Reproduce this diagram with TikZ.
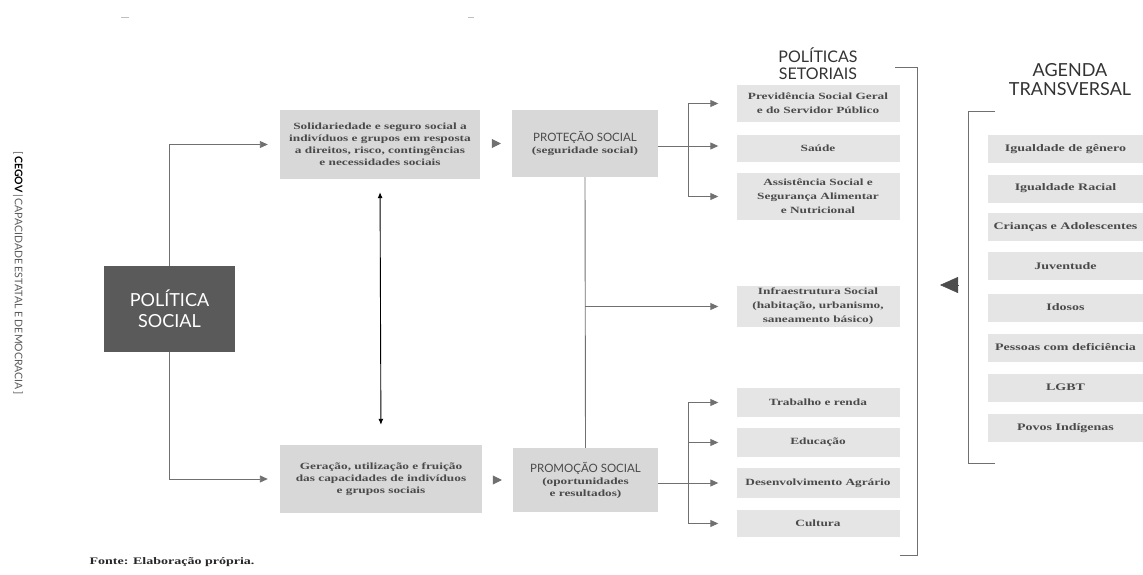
\documentclass[tikz,border=0pt]{standalone}
\usepackage{fontspec}
\setmainfont{Liberation Serif}
\newfontfamily\bodyf{Liberation Serif}[FakeStretch=1.4]
\newfontfamily\hdrf{Lato}
\usetikzlibrary{arrows.meta}
\definecolor{boxgray}{HTML}{D8D8D8}
\definecolor{lightbox}{HTML}{E5E5E5}
\definecolor{darkbox}{HTML}{5A5A5A}
\definecolor{txt}{HTML}{4A4A4A}
\definecolor{linec}{HTML}{707070}
\tikzset{
  sbox/.style={fill=boxgray, inner sep=0pt, text=txt, align=center,
    font=\bodyf\bfseries\fontsize{9.5}{12}\selectfont},
  rbox/.style={fill=lightbox, inner sep=0pt, text=txt, align=center,
    minimum width=163pt, font=\bodyf\bfseries\fontsize{9.5}{14}\selectfont},
  abox/.style={fill=lightbox, inner sep=0pt, text=txt, align=center,
    minimum width=155pt, minimum height=28pt, font=\bodyf\bfseries\fontsize{10}{12}\selectfont},
  conn/.style={draw=linec, line width=0.9pt, -{Triangle[length=8pt,width=7pt]}, shorten >=18pt},
  plain/.style={draw=linec, line width=0.9pt},
  brk/.style={draw=linec, line width=1pt},
  dbl/.style={draw=black, line width=0.9pt, {Latex[length=6pt,width=5pt]}-{Latex[length=6pt,width=5pt]}},
  hdr/.style={font=\hdrf\fontsize{16}{17}\selectfont, text=black!80, align=center},
  capsf/.style={},
}
\begin{document}
\begin{tikzpicture}[x=1pt,y=-1pt]
\useasboundingbox (0,0) rectangle (1143,575);

% faint marks at top
\draw[gray!50, line width=0.6pt] (121,17) -- (129,17);
\draw[gray!50, line width=0.6pt] (468,17) -- (474,17);

% side label
\node[rotate=-90, font=\hdrf\fontsize{10.5}{12}\selectfont, text=black!65] (side) at (18,273)
  {[\,{\color{black}\textbf{CEGOV}}\,|\,CAPACIDADE ESTATAL E DEMOCRACIA\,]};

% main nodes
\node[fill=darkbox, minimum width=131pt, minimum height=86pt, inner sep=0pt, text=white,
  align=center, font=\hdrf\fontsize{18}{21}\selectfont] (pol) at (169.5,309) {POLÍTICA\\SOCIAL};

\node[sbox, minimum width=200pt, minimum height=69pt] (sol) at (380,144.5)
  {Solidariedade e seguro social a\\indivíduos e grupos em resposta\\a direitos, risco, contingências\\e necessidades sociais};
\node[sbox, minimum width=146pt, minimum height=67pt] (prot) at (585,143.5)
  {{\hdrf\mdseries\fontsize{11.5}{12}\selectfont PROTEÇÃO SOCIAL}\\(seguridade social)};
\node[sbox, minimum width=202pt, minimum height=68pt] (ger) at (381,479)
  {Geração, utilização e fruição\\das capacidades de indivíduos\\e grupos sociais};
\node[sbox, minimum width=145pt, minimum height=64pt] (prom) at (585.5,480)
  {{\hdrf\mdseries\fontsize{11.5}{12}\selectfont PROMOÇÃO SOCIAL}\\(oportunidades\\e resultados)};

% sector policies
\node[rbox, minimum height=37pt] (prev) at (818,103.5) {Previdência Social Geral\\e do Servidor Público};
\node[rbox, minimum height=27pt] (sau) at (818,148.5) {Saúde};
\node[rbox, minimum height=47pt] (assi) at (818,196.5) {Assistência Social e\\Segurança Alimentar\\e Nutricional};
\node[rbox, minimum height=41pt] (infra) at (818,306.5) {Infraestrutura Social\\(habitação, urbanismo,\\saneamento básico)};
\node[rbox, minimum height=29pt] (trab) at (818,402.5) {Trabalho e renda};
\node[rbox, minimum height=29pt] (edu) at (818,442.5) {Educação};
\node[rbox, minimum height=30pt] (des) at (818,483) {Desenvolvimento Agrário};
\node[rbox, minimum height=27pt] (cult) at (818,523.5) {Cultura};

% transversal agenda
\node[abox] (a1) at (1065.5,149) {Igualdade de gênero};
\node[abox] (a2) at (1065.5,188.5) {Igualdade Racial};
\node[abox] (a3) at (1065.5,227) {Crianças e Adolescentes};
\node[abox] (a4) at (1065.5,266) {Juventude};
\node[abox] (a5) at (1065.5,307.5) {Idosos};
\node[abox] (a6) at (1065.5,347.5) {Pessoas com deficiência};
\node[abox] (a7) at (1065.5,387.5) {LGBT};
\node[abox] (a8) at (1065.5,428) {Povos Indígenas};

% headers
\node[hdr] (h1) at (818,64) {POLÍTICAS\\SETORIAIS};
\node[hdr, font=\hdrf\fontsize{18}{19}\selectfont] (h2) at (1070,80) {AGENDA\\TRANSVERSAL};

% connectors from POLÍTICA SOCIAL
\draw[conn, shorten >=12pt] (pol.north) |- (sol.west);
\draw[conn, shorten >=12pt] (pol.south) |- (ger.west);

% small triangles between boxes
\draw[draw=linec, line width=0.5pt, -{Triangle[length=9pt,width=9pt]}, shorten <=12pt, shorten >=11pt] (sol.east |- prot) -- (prot.west);
\draw[draw=linec, line width=0.5pt, -{Triangle[length=9pt,width=9pt]}, shorten <=12pt, shorten >=11pt] (ger.east |- prom) -- (prom.west);

% double arrow
\draw[dbl, shorten <=13pt, shorten >=20pt] (sol.south) -- (ger.north);

% protection bracket
\coordinate (b1) at (688,0);
\draw[conn] (prot.east |- 0,146) -- (sau.west |- 0,146);
\draw[plain] (b1 |- prev) -- (b1 |- assi);
\draw[conn] (b1 |- prev) -- (prev.west);
\draw[conn] (b1 |- assi) -- (assi.west);

% vertical link and infrastructure branch
\draw[plain] (prot.south) -- (prom.north);
\draw[conn] (prot.south |- infra) -- (infra.west);

% promotion bracket
\coordinate (b2) at (688,0);
\draw[conn] (prom.east |- des) -- (des.west);
\draw[plain] (b2 |- trab) -- (b2 |- cult);
\draw[conn] (b2 |- trab) -- (trab.west);
\draw[conn] (b2 |- edu) -- (edu.west);
\draw[conn] (b2 |- cult) -- (cult.west);

% brackets
\coordinate (pt1) at (895,68);
\coordinate (pt2) at (917,555);
\coordinate (pt3) at (900,555);
\draw[brk] (pt1) -| (pt2) -- (pt3);
\coordinate (at1) at (995,112);
\coordinate (at2) at (968,463);
\coordinate (at3) at (995,463);
\draw[brk] (at1) -| (at2) -- (at3);

% big triangle from agenda to sector policies
\coordinate (ta) at (968,285);
\coordinate (tb) at (917,285);
\draw[draw=black!70, line width=0.5pt, -{Triangle[length=18pt,width=16pt]}, shorten <=10pt, shorten >=23pt] (ta) -- (tb);

% source
\node[anchor=west, font=\bodyf\bfseries\fontsize{10}{12}\selectfont, text=black!85] (src) at (86,562) {Fonte: Elaboração própria.};
\end{tikzpicture}
\end{document}
